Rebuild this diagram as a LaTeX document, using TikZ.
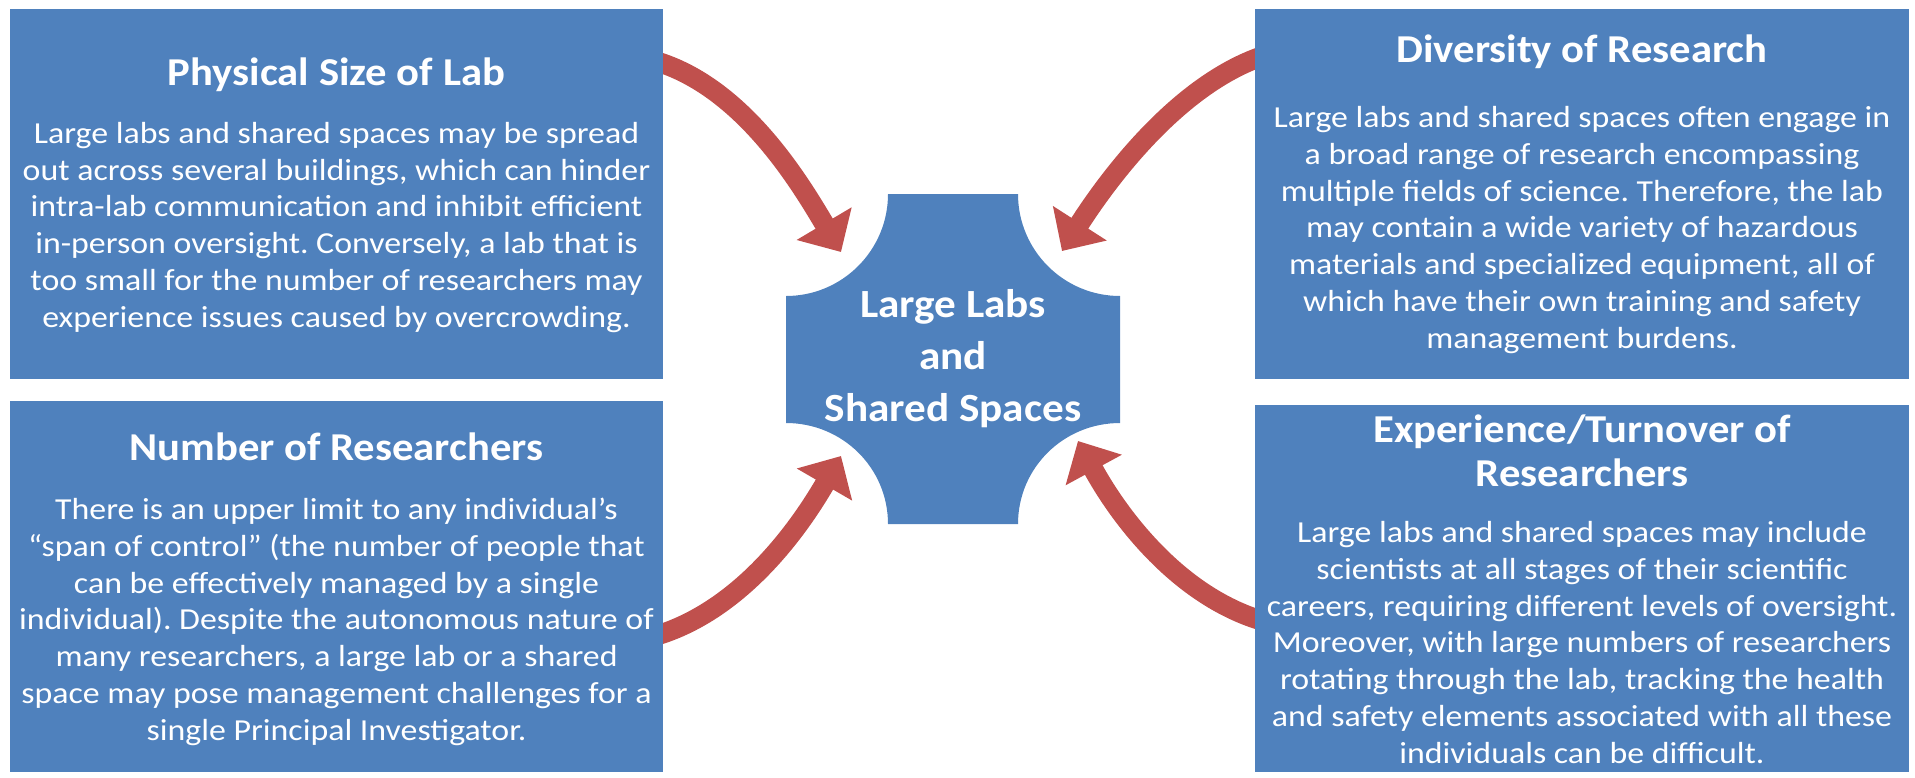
\documentclass[tikz,border=0pt]{standalone}
\usepackage{fontspec}
\setmainfont{Carlito}[FakeStretch=1.08]
\newfontfamily\bodyfont{Carlito}[FakeStretch=1.11]
\frenchspacing
\usetikzlibrary{arrows.meta}
\definecolor{boxblue}{HTML}{4F81BD}
\definecolor{arrowred}{HTML}{C0504D}
\begin{document}
\begin{tikzpicture}[x=1pt,y=-1pt,
  infobox/.style={fill=boxblue,draw=none,inner sep=0pt,anchor=north west},
  titletext/.style={text=white,font=\fontsize{39.5}{44}\selectfont\bfseries,align=center,anchor=base,inner sep=0pt},
  bodytext/.style={text=white,font=\bodyfont\fontsize{30.5}{36.7}\selectfont\frenchspacing,align=center,anchor=base,inner sep=0pt},
  centertext/.style={text=white,font=\fontsize{40}{52}\selectfont\bfseries,align=center,anchor=base,inner sep=0pt},
  bigarrow/.style={draw=arrowred,line width=20pt,-{Triangle[width=62pt,length=33pt]}}]
\useasboundingbox (0,0) rectangle (1915,777);
% arrow end points
\coordinate (tlout) at (655,61);
\coordinate (tltip) at (841,252);
\coordinate (blout) at (655,636);
\coordinate (bltip) at (841,456);
\coordinate (trout) at (1263,56);
\coordinate (trtip) at (1062,251);
\coordinate (brout) at (1263,621);
\coordinate (brtip) at (1078,441);
% arrows
\draw[bigarrow] (tlout) .. controls (743,87) and (800,183) .. (tltip);
\draw[bigarrow] (blout) .. controls (743,610) and (801,525) .. (bltip);
\draw[bigarrow] (trout) .. controls (1175,86) and (1105,184) .. (trtip);
\draw[bigarrow] (brout) .. controls (1175,595) and (1116,511) .. (brtip);
% boxes
\node[infobox,minimum width=653pt,minimum height=370pt] (tlbox) at (10,9) {};
\node[infobox,minimum width=653pt,minimum height=371pt] (blbox) at (10,401) {};
\node[infobox,minimum width=654pt,minimum height=370pt] (trbox) at (1255,9) {};
\node[infobox,minimum width=654pt,minimum height=367pt] (brbox) at (1255,405) {};
% center shape
\fill[boxblue] (888,194) -- (1018,194) .. controls (1018,250.3) and (1063.7,296) .. (1120,296)
  -- (1120,423) .. controls (1063.7,423) and (1018,467.7) .. (1018,524)
  -- (888,524) .. controls (888,467.7) and (842.3,423) .. (786,423)
  -- (786,296) .. controls (842.3,296) and (888,250.3) .. (888,194) -- cycle;
\node[centertext] (center) at (953,421) {Large Labs\\and\\Shared Spaces};
% texts (anchor = baseline of last line)
\node[titletext] (tltitle) at (336.5,85) {Physical Size of Lab};
\node[bodytext] (tlbody) at (336.5,327) {Large labs and shared spaces may be spread\\out across several buildings, which can hinder\\intra-lab communication and inhibit efficient\\in-person oversight. Conversely, a lab that is\\too small for the number of researchers may\\experience issues caused by overcrowding.};
\node[titletext] (trtitle) at (1582,62) {Diversity of Research};
\node[bodytext] (trbody) at (1582,348) {Large labs and shared spaces often engage in\\a broad range of research encompassing\\multiple fields of science. Therefore, the lab\\may contain a wide variety of hazardous\\materials and specialized equipment, all of\\which have their own training and safety\\management burdens.};
\node[titletext] (bltitle) at (336.5,460) {Number of Researchers};
\node[bodytext] (blbody) at (336.5,740) {There is an upper limit to any individual’s\\“span of control” (the number of people that\\can be effectively managed by a single\\individual). Despite the autonomous nature of\\many researchers, a large lab or a shared\\space may pose management challenges for a\\single Principal Investigator.};
\node[titletext] (brtitle) at (1582,486) {Experience/Turnover of\\Researchers};
\node[bodytext] (brbody) at (1582,763) {Large labs and shared spaces may include\\scientists at all stages of their scientific\\careers, requiring different levels of oversight.\\Moreover, with large numbers of researchers\\rotating through the lab, tracking the health\\and safety elements associated with all these\\individuals can be difficult.};
\end{tikzpicture}
\end{document}
